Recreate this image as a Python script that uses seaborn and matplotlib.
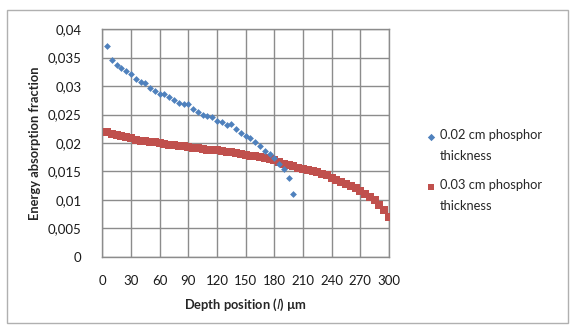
import numpy as np
import pandas as pd
import matplotlib
matplotlib.use("Agg")
import matplotlib.pyplot as plt
from matplotlib.patches import Rectangle
from matplotlib.ticker import FuncFormatter
import seaborn as sns

# depth positions (um) and absorption fractions
depth_02 = list(range(5, 205, 5))
absorb_02 = [0.0371, 0.0346, 0.0337, 0.0331, 0.0326, 0.0321, 0.0313, 0.0307,
             0.0305, 0.0296, 0.0292, 0.0286, 0.0286, 0.0281, 0.0275, 0.0271,
             0.0269, 0.0268, 0.0259, 0.0255, 0.0250, 0.0247, 0.0245, 0.0238,
             0.0236, 0.0231, 0.0233, 0.0225, 0.0218, 0.0213, 0.0208, 0.0201,
             0.0194, 0.0186, 0.0180, 0.0173, 0.0164, 0.0154, 0.0139, 0.0110]

depth_03 = list(range(5, 305, 5))
absorb_03 = [0.0219, 0.0216, 0.0214, 0.0212, 0.0211, 0.0209, 0.0206, 0.0204,
             0.0203, 0.0202, 0.0201, 0.0200, 0.0199, 0.0197, 0.0196, 0.0195,
             0.0194, 0.0193, 0.0192, 0.0191, 0.0189, 0.0188, 0.0188, 0.0187,
             0.0186, 0.0185, 0.0184, 0.0182, 0.0181, 0.0179, 0.0178, 0.0177,
             0.0176, 0.0174, 0.0172, 0.0170, 0.0167, 0.0164, 0.0162, 0.0160,
             0.0157, 0.0155, 0.0153, 0.0151, 0.0149, 0.0146, 0.0143, 0.0139,
             0.0135, 0.0131, 0.0128, 0.0124, 0.0121, 0.0116, 0.0111, 0.0106,
             0.0100, 0.0092, 0.0083, 0.0070]

label_02 = "0.02 cm phosphor\nthickness"
label_03 = "0.03 cm phosphor\nthickness"

x_ticks = list(range(0, 301, 30))
y_ticks = [0, 0.005, 0.01, 0.015, 0.02, 0.025, 0.03, 0.035, 0.04]

df = pd.concat([
    pd.DataFrame({"depth": depth_02, "fraction": absorb_02, "series": label_02}),
    pd.DataFrame({"depth": depth_03, "fraction": absorb_03, "series": label_03}),
])

sns.set_theme(style="white")
plt.rcParams["font.family"] = ["Lato", "DejaVu Sans"]

fig = plt.figure(figsize=(5.7, 3.26), dpi=100)
ax = fig.add_axes([0.1795, 0.2117, 0.503, 0.6993])

grid_col = "#8c8c8c"
palette = {label_02: "#4F81BD", label_03: "#C0504D"}

sns.scatterplot(data=df[df.series == label_03], x="depth", y="fraction",
                color=palette[label_03], marker="s", s=40, linewidth=0,
                ax=ax, label=label_03, zorder=3)
sns.scatterplot(data=df[df.series == label_02], x="depth", y="fraction",
                color=palette[label_02], marker="D", s=12, linewidth=0,
                ax=ax, label=label_02, zorder=4)

ax.set_xlim(0, 300)
ax.set_ylim(0, 0.04)
ax.set_xticks(x_ticks)
ax.set_yticks(y_ticks)
ax.yaxis.set_major_formatter(FuncFormatter(
    lambda v, p: "0" if v == 0 else f"{v:g}".replace(".", ",")))
ax.grid(True, color=grid_col, linewidth=1)
ax.set_axisbelow(True)
for s in ax.spines.values():
    s.set_color(grid_col)
    s.set_linewidth(1)
ax.tick_params(axis="both", length=0, labelsize=9.5, colors="#1a1a1a")
ax.tick_params(axis="x", pad=13)
ax.tick_params(axis="y", pad=15)

ax.set_xlabel("Depth position ($\\mathit{l}$) µm", fontsize=9.3,
              fontweight="bold", labelpad=7)
ax.set_ylabel("Energy absorption fraction", fontsize=9.3,
              fontweight="bold", labelpad=5)

# legend: blue first, red second; marker sits on the first text line
h, l = ax.get_legend_handles_labels()
order = [l.index(label_02), l.index(label_03)]
leg = ax.legend([h[i] for i in order], [l[i] for i in order],
                loc="upper left", bbox_to_anchor=(0.722, 0.64),
                bbox_transform=fig.transFigure, frameon=False, fontsize=9.3,
                handletextpad=0.1, labelspacing=1.3, handlelength=1.2,
                scatteryoffsets=[1.45])
for t in leg.get_texts():
    t.set_linespacing(1.9)
leg.legend_handles[0].set_sizes([14])
leg.legend_handles[1].set_sizes([22])

# outer chart border
fig.patches.append(Rectangle((7 / 570, 3 / 326), 561 / 570, 313 / 326,
                             transform=fig.transFigure, fill=False,
                             edgecolor="#b0b0b0", linewidth=1))

fig.savefig("out.png", dpi=100)
